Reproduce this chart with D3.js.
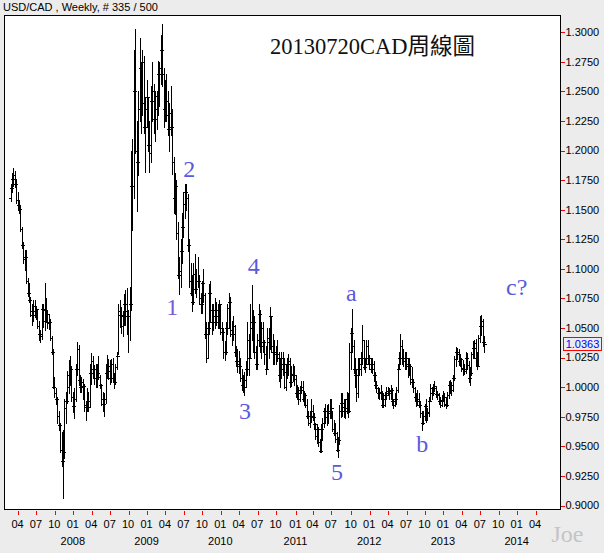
<!DOCTYPE html>
<html><head><meta charset="utf-8">
<script src="https://cdn.jsdelivr.net/npm/d3@7"></script>
<style>body{margin:0;background:#ececec;} svg{display:block;}</style>
</head><body>
<script>
// ---- data: weekly USD/CAD bars (week ending Friday), first week 2007-02-23 ----
const firstWeek = "2007-02-23";
const firstOpen = 1.1600;
const high2007 = [1.1720,1.1810,1.1850,1.1830,1.1760,1.1650,1.1580,1.1530,1.1350,1.1230,1.1160,1.1160,1.0920,1.0880,1.0760,1.0700,1.0740,1.0740,1.0690,1.0660,1.0560,1.0480,1.0700,1.0700,1.0880,1.0750,1.0650,1.0620,1.0580,1.0430,1.0320,1.0090,0.9990,0.9920,0.9800,0.9700,0.9620,0.9640,0.9900,0.9960,1.0140,1.0230,1.0260,1.0180,0.9960];
const low2007  = [1.1570,1.1650,1.1700,1.1690,1.1560,1.1500,1.1470,1.1320,1.1180,1.1050,1.0990,1.0880,1.0770,1.0720,1.0600,1.0530,1.0560,1.0590,1.0580,1.0500,1.0400,1.0380,1.0410,1.0510,1.0480,1.0550,1.0500,1.0490,1.0400,1.0280,0.9990,0.9920,0.9860,0.9700,0.9640,0.9450,0.9330,0.9060,0.9400,0.9700,0.9870,0.9950,1.0020,0.9880,0.9790];
const close2007= [1.1680,1.1760,1.1790,1.1720,1.1580,1.1540,1.1510,1.1340,1.1200,1.1080,1.1100,1.0900,1.0800,1.0740,1.0640,1.0610,1.0690,1.0640,1.0660,1.0520,1.0450,1.0430,1.0660,1.0560,1.0650,1.0620,1.0540,1.0550,1.0420,1.0300,1.0000,0.9950,0.9900,0.9760,0.9680,0.9470,0.9380,0.9450,0.9820,0.9880,1.0000,1.0100,1.0150,0.9920,0.9840];

const high2008 = [0.9990,1.0200,1.0380,1.0360,1.0100,1.0090,1.0070,1.0030,0.9880,0.9990,0.9960,1.0200,1.0290,1.0260,1.0190,1.0200,1.0200,1.0260,1.0100,1.0030,0.9960,0.9950,1.0200,1.0270,1.0240,1.0230,1.0240,1.0250,1.0120,1.0200,1.0300,1.0700,1.0740,1.0680,1.0640,1.0790,1.0820,1.0840,1.0650,1.0850,1.2000,1.2100,1.2850,1.3030,1.2250,1.2500,1.2950,1.2750,1.2850,1.2800,1.2450,1.2600];
const low2008  = [0.9740,0.9880,1.0100,1.0020,0.9960,0.9960,0.9900,0.9800,0.9720,0.9800,0.9800,0.9840,1.0030,1.0080,1.0030,1.0000,1.0000,1.0070,0.9990,0.9850,0.9800,0.9760,0.9870,1.0080,1.0070,1.0030,1.0040,1.0050,0.9990,1.0030,1.0150,1.0280,1.0510,1.0460,1.0430,1.0530,1.0530,1.0450,1.0300,1.0400,1.0650,1.1330,1.1600,1.1980,1.1490,1.1790,1.2250,1.2150,1.2300,1.2150,1.1820,1.2200];
const close2008= [0.9900,1.0150,1.0320,1.0060,1.0000,1.0040,1.0010,0.9850,0.9830,0.9880,0.9830,1.0120,1.0220,1.0150,1.0080,1.0080,1.0120,1.0090,1.0020,0.9900,0.9860,0.9900,1.0120,1.0180,1.0140,1.0080,1.0200,1.0080,1.0040,1.0170,1.0260,1.0640,1.0610,1.0520,1.0600,1.0700,1.0640,1.0600,1.0600,1.0700,1.1700,1.1700,1.2500,1.2000,1.1900,1.2350,1.2700,1.2400,1.2750,1.2200,1.2350,1.2450];

const high2009 = [1.2450,1.2250,1.2550,1.2750,1.2560,1.2500,1.2500,1.2760,1.2750,1.2980,1.3070,1.2700,1.2600,1.2650,1.2500,1.2400,1.2550,1.2350,1.1950,1.1810,1.1750,1.1400,1.1100,1.1250,1.1470,1.1650,1.1720,1.1720,1.1630,1.1250,1.1050,1.0950,1.1050,1.1130,1.1000,1.1100,1.0950,1.0800,1.0900,1.1000,1.0800,1.0550,1.0550,1.0870,1.0900,1.0700,1.0700,1.0750,1.0720,1.0700,1.0740,1.0700];
const low2009  = [1.2000,1.1820,1.1900,1.2250,1.2150,1.2080,1.2180,1.2300,1.2380,1.2560,1.2550,1.2200,1.2250,1.2250,1.2130,1.2000,1.2130,1.1800,1.1470,1.1460,1.1250,1.0920,1.0790,1.0850,1.1050,1.1270,1.1430,1.1500,1.1150,1.0850,1.0780,1.0640,1.0700,1.0800,1.0760,1.0850,1.0700,1.0630,1.0630,1.0720,1.0420,1.0210,1.0250,1.0450,1.0550,1.0450,1.0480,1.0500,1.0530,1.0500,1.0500,1.0450];
const close2009= [1.2050,1.1980,1.2420,1.2500,1.2270,1.2350,1.2460,1.2650,1.2700,1.2850,1.2650,1.2350,1.2420,1.2300,1.2180,1.2320,1.2200,1.1900,1.1600,1.1700,1.1300,1.0950,1.0980,1.1150,1.1350,1.1550,1.1650,1.1600,1.1200,1.0900,1.0800,1.0720,1.0960,1.0830,1.0900,1.0900,1.0750,1.0700,1.0880,1.0780,1.0450,1.0250,1.0500,1.0800,1.0650,1.0550,1.0600,1.0650,1.0600,1.0550,1.0700,1.0500];

const high2010 = [1.0550,1.0500,1.0390,1.0550,1.0700,1.0800,1.0760,1.0560,1.0600,1.0530,1.0350,1.0320,1.0310,1.0250,1.0150,1.0100,1.0130,1.0220,1.0550,1.0450,1.0700,1.0860,1.0650,1.0600,1.0350,1.0450,1.0700,1.0650,1.0550,1.0550,1.0400,1.0350,1.0500,1.0500,1.0680,1.0600,1.0450,1.0400,1.0350,1.0400,1.0300,1.0250,1.0300,1.0300,1.0250,1.0200,1.0250,1.0280,1.0250,1.0180,1.0200,1.0180,1.0100];
const low2010  = [1.0400,1.0250,1.0230,1.0280,1.0450,1.0500,1.0430,1.0360,1.0400,1.0260,1.0180,1.0130,1.0120,1.0050,0.9980,0.9960,0.9930,1.0000,1.0100,1.0100,1.0250,1.0400,1.0300,1.0250,1.0150,1.0150,1.0350,1.0300,1.0250,1.0300,1.0200,1.0110,1.0150,1.0250,1.0320,1.0300,1.0200,1.0200,1.0200,1.0220,1.0050,1.0000,1.0080,1.0100,0.9990,0.9980,1.0080,1.0100,1.0000,1.0010,1.0050,1.0020,0.9920];
const close2010= [1.0470,1.0300,1.0300,1.0500,1.0670,1.0720,1.0480,1.0450,1.0520,1.0300,1.0220,1.0200,1.0180,1.0080,1.0020,1.0000,1.0060,1.0150,1.0400,1.0250,1.0550,1.0500,1.0550,1.0300,1.0200,1.0400,1.0620,1.0350,1.0500,1.0380,1.0280,1.0150,1.0420,1.0380,1.0600,1.0350,1.0300,1.0300,1.0280,1.0250,1.0100,1.0150,1.0250,1.0200,1.0000,1.0130,1.0200,1.0220,1.0040,1.0110,1.0100,1.0070,0.9950];

const high2011 = [1.0020,1.0000,1.0010,1.0050,1.0050,0.9970,0.9950,0.9900,0.9800,0.9800,0.9900,0.9850,0.9780,0.9700,0.9690,0.9660,0.9560,0.9690,0.9740,0.9820,0.9860,0.9850,0.9860,0.9900,0.9900,0.9800,0.9720,0.9700,0.9620,0.9580,0.9850,0.9950,0.9950,0.9900,0.9900,0.9960,0.9950,1.0370,1.0500,1.0660,1.0400,1.0250,1.0150,1.0250,1.0250,1.0300,1.0530,1.0400,1.0250,1.0400,1.0400,1.0270];
const low2011  = [0.9900,0.9860,0.9880,0.9950,0.9880,0.9850,0.9830,0.9740,0.9680,0.9660,0.9710,0.9720,0.9650,0.9560,0.9530,0.9500,0.9450,0.9450,0.9550,0.9660,0.9700,0.9680,0.9700,0.9740,0.9740,0.9630,0.9600,0.9540,0.9460,0.9410,0.9520,0.9750,0.9760,0.9750,0.9740,0.9780,0.9750,0.9790,1.0150,1.0300,1.0120,1.0000,0.9880,0.9920,1.0100,1.0100,1.0200,1.0150,1.0130,1.0200,1.0200,1.0150];
const close2011= [0.9950,0.9900,0.9980,1.0000,0.9900,0.9930,0.9850,0.9760,0.9700,0.9760,0.9800,0.9750,0.9690,0.9590,0.9650,0.9540,0.9460,0.9650,0.9700,0.9800,0.9750,0.9800,0.9780,0.9800,0.9820,0.9650,0.9610,0.9560,0.9470,0.9550,0.9800,0.9870,0.9830,0.9800,0.9820,0.9900,0.9800,1.0300,1.0460,1.0350,1.0150,1.0100,0.9950,1.0150,1.0200,1.0250,1.0400,1.0170,1.0200,1.0350,1.0250,1.0200];

const high2012 = [1.0250,1.0250,1.0220,1.0130,1.0050,1.0000,0.9990,1.0020,0.9970,0.9950,0.9960,1.0000,1.0000,0.9990,1.0020,0.9990,0.9900,0.9950,1.0000,1.0200,1.0300,1.0450,1.0400,1.0320,1.0300,1.0300,1.0250,1.0250,1.0200,1.0170,1.0070,1.0000,0.9950,0.9980,0.9950,0.9880,0.9800,0.9800,0.9860,0.9900,0.9820,0.9920,1.0030,1.0000,1.0030,1.0050,1.0000,0.9970,0.9950,0.9920,0.9930,0.9970];
const low2012  = [1.0130,1.0120,1.0050,0.9990,0.9960,0.9910,0.9900,0.9900,0.9830,0.9830,0.9840,0.9900,0.9930,0.9900,0.9900,0.9850,0.9820,0.9840,0.9860,0.9960,1.0150,1.0200,1.0200,1.0180,1.0150,1.0150,1.0090,1.0100,1.0030,1.0000,0.9960,0.9890,0.9840,0.9850,0.9830,0.9750,0.9640,0.9690,0.9720,0.9710,0.9720,0.9760,0.9880,0.9900,0.9930,0.9970,0.9920,0.9900,0.9860,0.9830,0.9840,0.9880];
const close2012= [1.0150,1.0200,1.0100,1.0020,0.9990,0.9950,0.9960,0.9950,0.9850,0.9900,0.9930,0.9950,0.9970,0.9950,0.9980,0.9880,0.9850,0.9900,0.9980,1.0150,1.0250,1.0350,1.0250,1.0220,1.0250,1.0180,1.0200,1.0180,1.0070,1.0040,0.9990,0.9920,0.9880,0.9900,0.9850,0.9780,0.9700,0.9760,0.9840,0.9780,0.9790,0.9880,0.9990,0.9950,0.9990,1.0010,0.9940,0.9930,0.9880,0.9850,0.9890,0.9920];

const high2013 = [0.9950,0.9920,0.9960,1.0050,1.0060,1.0040,1.0100,1.0260,1.0340,1.0330,1.0320,1.0280,1.0250,1.0230,1.0200,1.0300,1.0290,1.0220,1.0170,1.0300,1.0390,1.0400,1.0410,1.0300,1.0440,1.0600,1.0610,1.0580,1.0430];
const low2013  = [0.9840,0.9820,0.9840,0.9910,0.9950,0.9930,0.9970,1.0060,1.0180,1.0240,1.0190,1.0180,1.0140,1.0100,1.0110,1.0120,1.0150,1.0040,1.0020,1.0100,1.0250,1.0250,1.0180,1.0150,1.0180,1.0380,1.0440,1.0350,1.0300];
const close2013= [0.9860,0.9850,0.9930,1.0020,0.9980,1.0020,1.0080,1.0240,1.0300,1.0280,1.0220,1.0240,1.0160,1.0150,1.0140,1.0250,1.0190,1.0080,1.0120,1.0280,1.0330,1.0370,1.0250,1.0180,1.0420,1.0520,1.0560,1.0380,1.0363];

const lastPrice = 1.0363;
const priceTicks = [0.9,0.925,0.95,0.975,1.0,1.025,1.05,1.075,1.1,1.125,1.15,1.175,1.2,1.225,1.25,1.275,1.3];
const tickMonths = [0,3,6,9];               // Jan, Apr, Jul, Oct
const monthNames = ["01","04","07","10"];
const waveText   = ["1","2","3","4","5","a","b","c?"];
const waveDate   = ["2009-05-02","2009-07-25","2010-04-26","2010-06-08","2011-07-24","2011-10-02","2012-09-16","2013-12-27"];
const wavePrice  = [1.061,1.178,0.973,1.0957,0.9215,1.0731,0.9455,1.078];
const headerText = "USD/CAD , Weekly, # 335 / 500";
const titleText  = "20130720CAD周線圖";

// ---- build bars ----
const highs  = [].concat(high2007, high2008, high2009, high2010, high2011, high2012, high2013);
const lows   = [].concat(low2007, low2008, low2009, low2010, low2011, low2012, low2013);
const closes = [].concat(close2007, close2008, close2009, close2010, close2011, close2012, close2013);
const start = d3.utcParse("%Y-%m-%d")(firstWeek);
const bars = closes.map((c, i) => ({
  date: d3.utcWeek.offset(start, i),
  open: i === 0 ? firstOpen : closes[i - 1],
  high: highs[i], low: lows[i], close: c
}));

const W = 604, H = 553;
const plot = {left: 4, right: 560, top: 15, bottom: 510};
const svg = d3.select("body").append("svg").attr("width", W).attr("height", H)
  .style("font-family", "'Liberation Sans', Arial, sans-serif");
svg.append("rect").attr("width", W).attr("height", H).attr("fill", "#ececec");
svg.append("rect").attr("x", plot.left + 0.5).attr("y", plot.top + 0.5)
  .attr("width", plot.right - plot.left).attr("height", plot.bottom - plot.top - 1)
  .attr("fill", "#fff").attr("stroke", "#000").attr("shape-rendering", "crispEdges");

const x = d3.scaleUtc()
  .domain([start, bars[bars.length - 1].date])
  .range([10.5, 10.5 + (bars.length - 1) * 1.418]);
const y = d3.scaleLinear().domain([0.9, 1.3]).range([505.5, 32.3]);
const px = v => Math.round(x(v)) + 0.5;
const py = v => Math.round(y(v)) + 0.5;

// ---- OHLC bars ----
const g = svg.append("g").attr("stroke", "#000").attr("stroke-width", 1).attr("shape-rendering", "crispEdges");
g.selectAll("path.bar").data(bars).join("path").attr("class", "bar")
  .attr("fill", "none")
  .attr("d", d => {
    const cx = px(d.date);
    return `M${cx},${py(d.high) - 0.5}V${py(d.low) + 0.5}` +
           `M${cx - 2.5},${py(d.open)}H${cx}` +
           `M${cx},${py(d.close)}H${cx + 2.5}`;
  });

// ---- right price axis ----
const ya = svg.append("g");
ya.selectAll("line").data(priceTicks).join("line")
  .attr("x1", plot.right + 1).attr("x2", plot.right + 5)
  .attr("y1", d => py(d)).attr("y2", d => py(d))
  .attr("stroke", "#ff0000").attr("shape-rendering", "crispEdges");
ya.selectAll("text").data(priceTicks).join("text")
  .attr("x", plot.right + 5.5).attr("y", d => y(d))
  .attr("dy", "0.35em").attr("font-size", 11).attr("fill", "#000")
  .text(d => d3.format(".4f")(d));

// last price box
const lp = svg.append("g");
lp.append("rect").attr("x", 563.5).attr("y", Math.round(y(lastPrice)) - 6.5)
  .attr("width", 38).attr("height", 13).attr("fill", "#ececec")
  .attr("stroke", "#ff0000").attr("shape-rendering", "crispEdges");
lp.append("text").attr("x", 582.5).attr("y", y(lastPrice)).attr("dy", "0.35em")
  .attr("text-anchor", "middle").attr("font-size", 11).attr("fill", "#0000ff")
  .text(d3.format(".4f")(lastPrice));

// ---- bottom time axis ----
const tickDates = d3.utcMonth.range(d3.utcParse("%Y-%m-%d")("2007-04-01"), d3.utcParse("%Y-%m-%d")("2014-05-01"))
  .filter(m => tickMonths.includes(m.getUTCMonth()))
  .map(m => ({month: m, date: d3.utcFriday.ceil(m)}));
const xa = svg.append("g");
xa.selectAll("line").data(tickDates).join("line")
  .attr("x1", d => px(d.date) - 1).attr("x2", d => px(d.date) - 1)
  .attr("y1", plot.bottom + 1).attr("y2", plot.bottom + 5)
  .attr("stroke", "#ff0000").attr("shape-rendering", "crispEdges");
xa.selectAll("text.m").data(tickDates).join("text").attr("class", "m")
  .attr("x", d => x(d.date) - 1.5).attr("y", 524).attr("dy", "0.35em")
  .attr("text-anchor", "middle").attr("font-size", 11).attr("fill", "#000")
  .text(d => monthNames[tickMonths.indexOf(d.month.getUTCMonth())]);
xa.selectAll("text.yr").data(tickDates.filter(d => d.month.getUTCMonth() === 0)).join("text").attr("class", "yr")
  .attr("x", d => x(d.date) - 1.5).attr("y", 541).attr("dy", "0.35em")
  .attr("text-anchor", "middle").attr("font-size", 11).attr("fill", "#000")
  .text(d => d.month.getUTCFullYear());

// ---- texts ----
svg.append("text").attr("x", 3).attr("y", 11).attr("font-size", 11).attr("fill", "#000").text(headerText);
svg.append("text").attr("x", 270).attr("y", 53.5)
  .attr("font-family", "'Liberation Serif', 'Noto Sans CJK TC', serif")
  .attr("font-size", 22.5).attr("fill", "#111").text(titleText);

svg.append("g").selectAll("text").data(waveText).join("text")
  .attr("x", (d, i) => x(d3.utcParse("%Y-%m-%d")(waveDate[i])))
  .attr("y", (d, i) => y(wavePrice[i]))
  .attr("text-anchor", "middle")
  .attr("font-family", "'Liberation Serif', serif").attr("font-size", 24)
  .attr("fill", (d, i) => i === 0 ? "#7a5ad6" : "#5a5ae0")
  .text(d => d);

svg.append("text").attr("x", 551.5).attr("y", 542)
  .attr("font-family", "'Liberation Serif', serif").attr("font-size", 24)
  .attr("fill", "#c4c4c4").text("Joe");
</script>
</body></html>
